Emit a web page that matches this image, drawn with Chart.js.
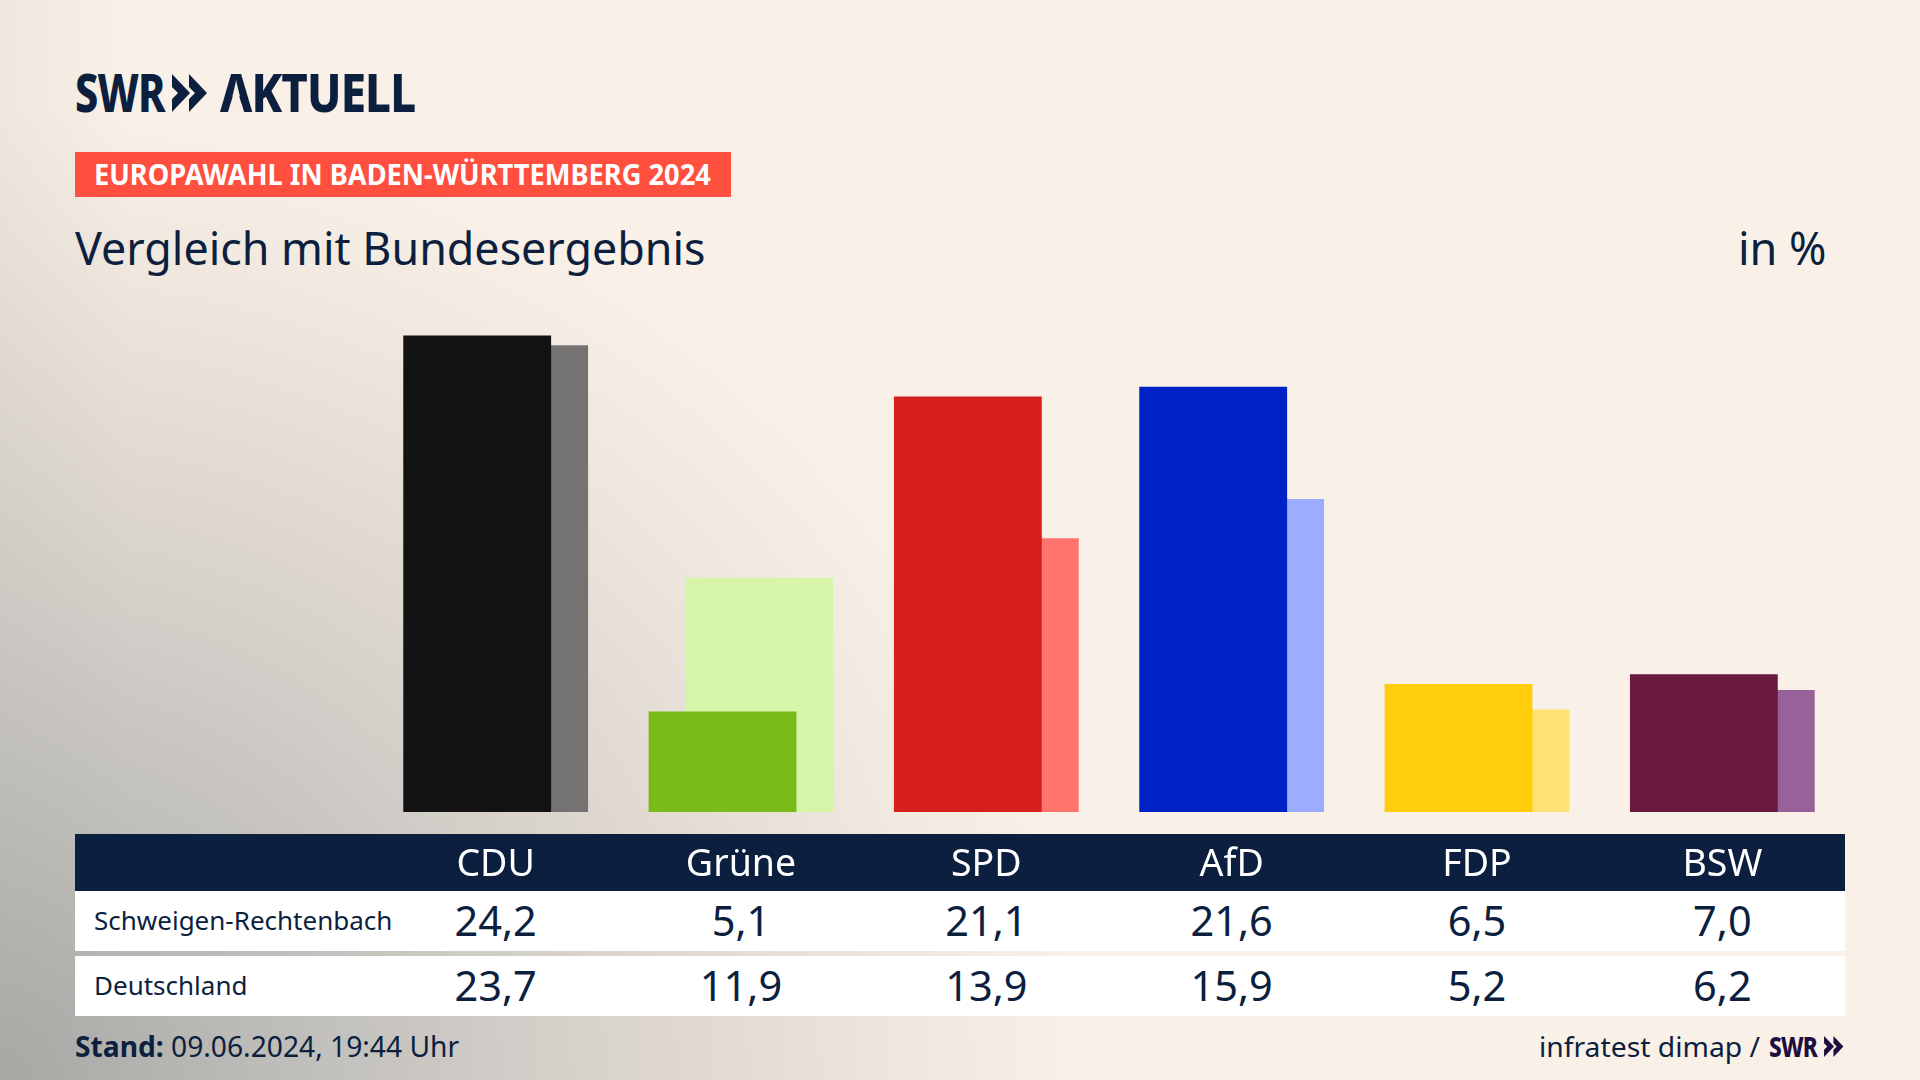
<!DOCTYPE html>
<html lang="de">
<head>
<meta charset="utf-8">
<title>Europawahl in Baden-Württemberg 2024</title>
<script src="https://cdn.jsdelivr.net/npm/chart.js@4"></script>
<style>
  html, body { margin: 0; padding: 0; }
  body {
    width: 1920px; height: 1080px; overflow: hidden; position: relative;
    font-family: "Noto Sans", sans-serif; color: #0c1f3f;
    background-color: #f9f1e7;
    background-image:
      linear-gradient(to right, rgba(160,160,155,.12), rgba(160,160,155,0) 130px),
      radial-gradient(ellipse 1180px 1060px at 0px 1080px, #a8a8a6 0%, #c4c2be 30%, #dcd6cf 55%, #f0e8df 78%, #f9f1e7 92%);
  }
  .txt { position: absolute; white-space: nowrap; line-height: 1; transform-origin: left top; }
  #logo { left: 75px; top: 65px; font-weight: 800; font-size: 53px; transform: scaleX(.78); letter-spacing: -1px; }
  #chev { position: absolute; left: 172px; top: 74px; }
  #logo2 { left: 220px; top: 65px; font-weight: 800; font-size: 53px; transform: scaleX(.86); letter-spacing: -1px; }
  #notch { position: absolute; left: 220px; top: 74px; }
  #tag { position: absolute; left: 75px; top: 152px; width: 656px; height: 45px; background: #ff4f3f; }
  #tagText { left: 94px; top: 160px; color: #fff; font-weight: 700; font-size: 28px; transform: scaleX(.973); }
  #title { left: 75px; top: 226px; font-size: 44.8px; }
  #unit { left: 1738px; top: 225px; font-size: 45px; }
  #head { position: absolute; left: 75px; top: 834px; width: 1770px; height: 57px; background: #0c1f3f; }
  .row { position: absolute; left: 75px; width: 1770px; height: 60px; background: #fff; }
  .name { position: absolute; left: 19px; top: 16px; font-size: 26px; line-height: 1; white-space: nowrap; }
  .val { position: absolute; width: 200px; text-align: center; top: 9px; font-size: 41.5px; line-height: 1; }
  #stand { left: 75px; top: 1032px; font-size: 28.2px; }
  #source { left: 1539px; top: 1032px; font-size: 28px; transform: scaleX(1.01); }
  #swr2 { left: 1769px; top: 1031px; font-size: 29px; font-weight: 800; color: #1f0f3f; transform: scaleX(.78); letter-spacing: -1px; }
  #chev2 { position: absolute; left: 1823px; top: 1036px; }
  #wrap { position: absolute; left: 373px; top: 300px; width: 1472px; height: 591px; }
</style>
</head>
<body>
<div class="txt" id="logo">SWR</div>
<svg id="chev" width="36" height="38" viewBox="0 0 36 38"><path d="M0 0 L18 19 L0 38 L0 25 L6 19 L0 13 Z M17 0 L35 19 L17 38 L17 25 L23 19 L17 13 Z" fill="#0c1f3f"/></svg>
<div class="txt" id="logo2">AKTUELL</div>
<svg id="notch" width="34" height="38" viewBox="0 0 34 38"><path d="M16 12 L8 38 L24 38 Z" fill="#f6eee5"/></svg>
<div id="tag"></div>
<div class="txt" id="tagText">EUROPAWAHL IN BADEN-WÜRTTEMBERG 2024</div>
<div class="txt" id="title">Vergleich mit Bundesergebnis</div>
<div class="txt" id="unit">in %</div>
<div id="head"></div>
<div class="row" id="row1" style="top:891px"></div>
<div class="row" id="row2" style="top:956px"></div>
<div class="txt" id="stand"><b>Stand:</b> 09.06.2024, 19:44 Uhr</div>
<div class="txt" id="source">infratest dimap /</div>
<div class="txt" id="swr2">SWR</div>
<svg id="chev2" width="22" height="21" viewBox="0 0 36 38"><path d="M0 0 L18 19 L0 38 L0 25 L6 19 L0 13 Z M17 0 L35 19 L17 38 L17 25 L23 19 L17 13 Z" fill="#1f0f3f"/></svg>
<div id="wrap"><canvas id="chart" width="1472" height="591"></canvas></div>

<script>
// Daten
const parties = ['CDU', 'Grüne', 'SPD', 'AfD', 'FDP', 'BSW'];
const regionName = 'Schweigen-Rechtenbach';
const nationName = 'Deutschland';
const regionValues = [24.2, 5.1, 21.1, 21.6, 6.5, 7.0];
const nationValues = [23.7, 11.9, 13.9, 15.9, 5.2, 6.2];
const regionColors = ['#131313', '#7abb1a', '#d7201e', '#0021c6', '#ffcd0c', '#6a1a3f'];
const nationColors = ['#747371', '#d6f5a9', '#ff756d', '#9cadff', '#ffe272', '#99619a'];

const fmt = v => v.toFixed(1).replace('.', ',');

// Tabellenzeilen unter dem Diagramm
function fillRow(id, name, values) {
  const row = document.getElementById(id);
  const label = document.createElement('div');
  label.className = 'name';
  label.textContent = name;
  row.appendChild(label);
  values.forEach((v, i) => {
    const cell = document.createElement('div');
    cell.className = 'val';
    cell.style.left = (373 - 75 + (i + 0.5) * 1472 / parties.length - 100) + 'px';
    cell.textContent = fmt(v);
    row.appendChild(cell);
  });
}
fillRow('row1', regionName, regionValues);
fillRow('row2', nationName, nationValues);

// Balken: erster Datensatz liegt oben, die Balken ueberlappen durch barPercentage > 1
new Chart(document.getElementById('chart'), {
  type: 'bar',
  data: {
    labels: parties,
    datasets: [
      { label: regionName, data: regionValues, backgroundColor: regionColors },
      { label: nationName, data: nationValues, backgroundColor: nationColors }
    ]
  },
  options: {
    responsive: false,
    animation: false,
    events: [],
    layout: { padding: 0 },
    datasets: { bar: { categoryPercentage: 0.3013, barPercentage: 4 } },
    plugins: { legend: { display: false }, tooltip: { enabled: false } },
    scales: {
      x: {
        grid: { display: false },
        border: { display: false },
        afterFit: axis => { axis.height = 79; },
        ticks: {
          color: '#ffffff',
          padding: 23,
          maxRotation: 0,
          font: { family: '"Noto Sans"', size: 37.5 }
        }
      },
      y: { display: false, min: 0, max: 26 }
    }
  }
});
</script>
</body>
</html>
